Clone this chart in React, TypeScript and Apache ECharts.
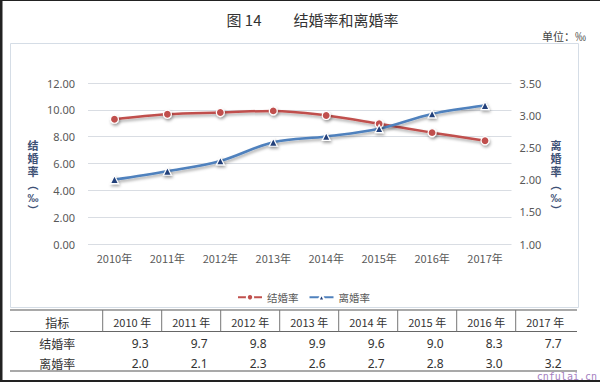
import React, { useEffect, useRef } from "react";
import * as echarts from "echarts";

const years = ["2010", "2011", "2012", "2013", "2014", "2015", "2016", "2017"];
const marriageRate = [9.3, 9.67, 9.8, 9.92, 9.58, 8.96, 8.3, 7.7];
const divorceRate = [2.0, 2.13, 2.29, 2.58, 2.67, 2.79, 3.02, 3.15];
const marriageTable = ["9.3", "9.7", "9.8", "9.9", "9.6", "9.0", "8.3", "7.7"];
const divorceTable = ["2.0", "2.1", "2.3", "2.6", "2.7", "2.8", "3.0", "3.2"];
const seriesNames = ["结婚率", "离婚率"];
const tableHeader = "指标";
const titleNo = "图 14";
const titleText = "结婚率和离婚率";
const unitText = "单位：‰";
const leftAxisName = ["结", "婚", "率", "︵", "‰", "︶"];
const rightAxisName = ["离", "婚", "率", "︵", "‰", "︶"];

const CJK = '"Noto Sans CJK SC", "Noto Sans", sans-serif';

export default function App() {
  const ref = useRef<HTMLDivElement>(null);
  useEffect(() => {
    if (!ref.current) return;
    const chart = echarts.init(ref.current, null, { renderer: "svg" });

    const colStart = 102.7;
    const colW = 59;
    const tableLeft = 10;
    const tableRight = 577;
    const yTop = 310;
    const yHead = 331.5;
    const yBottom = 371;
    const graphics: any[] = [];

    // outer frame box
    graphics.push({
      type: "rect",
      shape: { x: 10.5, y: 43.5, width: 568, height: 264 },
      style: { fill: "none", stroke: "#d5dde6", lineWidth: 1 },
      z: 0,
    });
    // title
    graphics.push({
      type: "text",
      x: 244,
      y: 19,
      style: { text: titleNo, font: `15px ${CJK}`, fill: "#333", align: "center", verticalAlign: "middle" },
    });
    graphics.push({
      type: "text",
      x: 346,
      y: 19,
      style: { text: titleText, font: `15px ${CJK}`, fill: "#333", align: "center", verticalAlign: "middle" },
    });
    graphics.push({
      type: "text",
      x: 586,
      y: 36,
      style: { text: unitText, font: `11px ${CJK}`, fill: "#444", align: "right", verticalAlign: "middle" },
    });
    // axis names, one glyph per text
    const vName = (chars: string[], x: number) =>
      chars.forEach((ch, i) =>
        graphics.push({
          type: "text",
          x,
          y: 146 + i * 13,
          style: {
            text: ch,
            font: `bold 11px "Liberation Sans", "Noto Sans CJK SC", sans-serif`,
            lineHeight: 12,
            fill: "#3d5175",
            align: "center",
            verticalAlign: "middle",
          },
        })
      );
    vName(leftAxisName, 33);
    vName(rightAxisName, 556);

    // table lines
    const hline = (y: number, w: number, c: string) =>
      graphics.push({
        type: "line",
        shape: { x1: tableLeft, y1: y, x2: tableRight, y2: y },
        style: { stroke: c, lineWidth: w },
      });
    hline(yTop, 1.2, "#555");
    hline(yHead, 1, "#666");
    hline(yBottom, 1.2, "#555");
    for (let i = 0; i < years.length; i++) {
      const x = colStart + i * colW;
      graphics.push({
        type: "line",
        shape: { x1: x, y1: yTop, x2: x, y2: yHead },
        style: { stroke: "#777", lineWidth: 1 },
      });
    }
    const firstCenter = (tableLeft + colStart) / 2 + 1;
    const cell = (text: string, x: number, y: number, font: string) =>
      graphics.push({
        type: "text",
        x,
        y,
        style: { text, font, fill: "#333", align: "center", verticalAlign: "middle" },
      });
    cell(tableHeader, firstCenter, 322, `12px ${CJK}`);
    cell(seriesNames[0], firstCenter, 343, `12px ${CJK}`);
    cell(seriesNames[1], firstCenter, 363, `12px ${CJK}`);
    years.forEach((yr, i) => {
      const cx = colStart + i * colW + colW / 2;
      cell(`${yr} 年`, cx, 322, `11px ${CJK}`);
      cell(marriageTable[i], cx + 8, 343, `12px "Noto Sans", sans-serif`);
      cell(divorceTable[i], cx + 8, 363, `12px "Noto Sans", sans-serif`);
    });
    // watermark text
    graphics.push({
      type: "text",
      x: 597,
      y: 376,
      style: {
        text: "cnfulai.cn",
        font: `10px "DejaVu Sans Mono", monospace`,
        fill: "#a57fbf",
        align: "right",
        verticalAlign: "middle",
      },
    });
    // image border
    graphics.push({ type: "rect", shape: { x: 0, y: 0, width: 600, height: 1 }, style: { fill: "#222" } });
    graphics.push({ type: "rect", shape: { x: 0, y: 0, width: 2.5, height: 382 }, style: { fill: "#222" } });
    graphics.push({ type: "rect", shape: { x: 0, y: 380, width: 600, height: 2 }, style: { fill: "#222" } });

    const shadow = { shadowBlur: 3, shadowColor: "rgba(0,0,0,0.35)", shadowOffsetX: 1, shadowOffsetY: 2 };

    chart.setOption({
      animation: false,
      backgroundColor: "#fff",
      grid: { left: 88, right: 88.5, top: 83, bottom: 138 },
      legend: {
        data: seriesNames,
        top: 287,
        left: 232,
        itemWidth: 24,
        itemHeight: 8,
        itemGap: 10,
        textStyle: { fontSize: 10.5, color: "#595959", fontFamily: CJK },
      },
      xAxis: {
        type: "category",
        data: years.map((y) => `${y}年`),
        axisLine: { show: false },
        axisTick: { show: false },
        axisLabel: { color: "#595959", fontSize: 11, margin: 8, fontFamily: CJK },
      },
      yAxis: [
        {
          type: "value",
          min: 0,
          max: 12,
          interval: 2,
          axisLine: { show: false },
          axisTick: { show: false },
          axisLabel: {
            color: "#595959",
            fontSize: 11,
            margin: 13,
            fontFamily: '"Noto Sans", sans-serif',
            formatter: (v: number) => v.toFixed(2),
          },
          splitLine: { lineStyle: { color: "#d9dde3", width: 1 } },
        },
        {
          type: "value",
          min: 1,
          max: 3.5,
          interval: 0.5,
          axisLine: { show: false },
          axisTick: { show: false },
          axisLabel: {
            color: "#595959",
            fontSize: 11,
            margin: 8,
            fontFamily: '"Noto Sans", sans-serif',
            formatter: (v: number) => v.toFixed(2),
          },
          splitLine: { show: false },
        },
      ],
      series: [
        {
          name: seriesNames[0],
          type: "line",
          yAxisIndex: 0,
          data: marriageRate,
          smooth: 0.35,
          symbol: "circle",
          symbolSize: 8,
          lineStyle: { color: "#c0504d", width: 2.5, ...shadow },
          itemStyle: { color: "#c0504d", borderColor: "#fff", borderWidth: 1.2, ...shadow },
        },
        {
          name: seriesNames[1],
          type: "line",
          yAxisIndex: 1,
          data: divorceRate,
          smooth: 0.35,
          symbol: "triangle",
          symbolSize: 8,
          lineStyle: { color: "#4f81bd", width: 2.5, ...shadow },
          itemStyle: { color: "#23407a", borderColor: "#fff", borderWidth: 1.2, ...shadow },
        },
      ],
      graphic: graphics,
    });
    return () => chart.dispose();
  }, []);
  return (
    <div
      ref={ref}
      style={{ position: "fixed", left: 0, top: 0, width: 600, height: 382, background: "#fff" }}
    />
  );
}
